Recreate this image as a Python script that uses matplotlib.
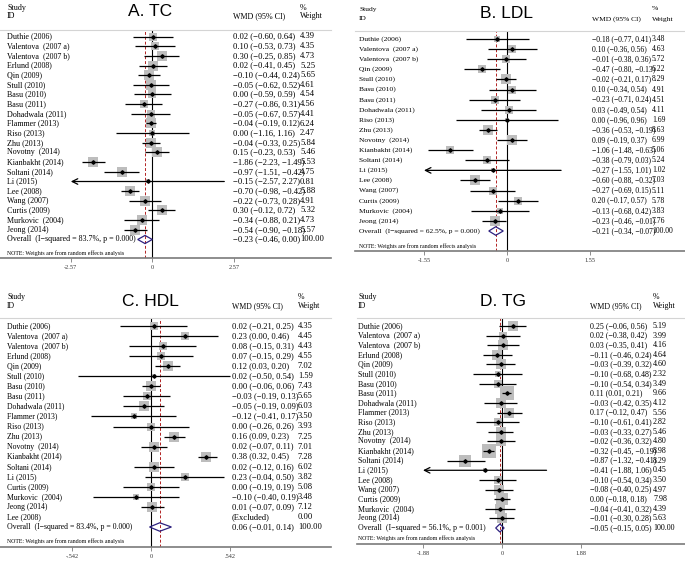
import numpy as np
import matplotlib
matplotlib.use("Agg")
import matplotlib.pyplot as plt
from matplotlib.patches import Polygon
from matplotlib.transforms import blended_transform_factory

W, H = 685, 563
SERIF = "Liberation Serif"

# ---------------- A. TC ----------------
tc_study = ["Duthie (2006)", "Valentova  (2007 a)", "Valentova  (2007 b)", "Erlund (2008)",
            "Qin (2009)", "Stull (2010)", "Basu (2010)", "Basu (2011)", "Dohadwala (2011)",
            "Flammer (2013)", "Riso (2013)", "Zhu (2013)", "Novotny  (2014)", "Kianbakht (2014)",
            "Soltani (2014)", "Li (2015)", "Lee (2008)", "Wang (2007)", "Curtis (2009)",
            "Murkovic  (2004)", "Jeong (2014)"]
tc_wmd = [0.02, 0.10, 0.30, 0.02, -0.10, -0.05, 0.00, -0.27, -0.05, -0.04, 0.00, -0.04,
          0.15, -1.86, -0.97, -0.15, -0.70, -0.22, 0.30, -0.34, -0.54]
tc_lo = [-0.60, -0.53, -0.25, -0.41, -0.44, -0.62, -0.59, -0.86, -0.67, -0.19, -1.16, -0.33,
         -0.23, -2.23, -1.51, -2.57, -0.98, -0.73, -0.12, -0.88, -0.90]
tc_hi = [0.64, 0.73, 0.85, 0.45, 0.24, 0.52, 0.59, 0.31, 0.57, 0.12, 1.16, 0.25,
         0.53, -1.49, -0.42, 2.27, -0.42, 0.28, 0.72, 0.21, -0.18]
tc_w = [4.39, 4.35, 4.73, 5.25, 5.65, 4.61, 4.54, 4.56, 4.41, 6.24, 2.47, 5.84,
        5.46, 5.53, 4.75, 0.81, 5.88, 4.91, 5.32, 4.73, 5.57]
tc_overall = [-0.23, -0.46, 0.00]
tc_het = "Overall  (I\u2212squared = 83.7%, p = 0.000)"
tc_ticks = [-2.57, 0, 2.57]
tc_ticklabels = ["-2.57", "0", "2.57"]

# ---------------- B. LDL ----------------
ldl_study = ["Duthie (2006)", "Valentova  (2007 a)", "Valentova  (2007 b)", "Qin (2009)",
             "Stull (2010)", "Basu (2010)", "Basu (2011)", "Dohadwala (2011)", "Riso (2013)",
             "Zhu (2013)", "Novotny  (2014)", "Kianbakht (2014)", "Soltani (2014)", "Li (2015)",
             "Lee (2008)", "Wang (2007)", "Curtis (2009)", "Murkovic  (2004)", "Jeong (2014)"]
ldl_wmd = [-0.18, 0.10, -0.01, -0.47, -0.02, 0.10, -0.23, 0.03, 0.00, -0.36, 0.09,
           -1.06, -0.38, -0.27, -0.60, -0.27, 0.20, -0.13, -0.23]
ldl_lo = [-0.77, -0.36, -0.38, -0.80, -0.21, -0.34, -0.71, -0.49, -0.96, -0.53, -0.19,
          -1.48, -0.79, -1.55, -0.88, -0.69, -0.17, -0.68, -0.46]
ldl_hi = [0.41, 0.56, 0.36, -0.13, 0.17, 0.54, 0.24, 0.54, 0.96, -0.19, 0.37,
          -0.63, 0.03, 1.01, -0.32, 0.15, 0.57, 0.42, -0.01]
ldl_w = [3.48, 4.63, 5.72, 6.22, 8.29, 4.91, 4.51, 4.11, 1.69, 8.63, 6.99,
         5.06, 5.24, 1.02, 7.03, 5.11, 5.78, 3.83, 7.76]
ldl_overall = [-0.21, -0.34, -0.07]
ldl_het = "Overall  (I\u2212squared = 62.5%, p = 0.000)"
ldl_ticks = [-1.55, 0, 1.55]
ldl_ticklabels = ["-1.55", "0", "1.55"]

# ---------------- C. HDL ----------------
hdl_study = ["Duthie (2006)", "Valentova  (2007 a)", "Valentova  (2007 b)", "Erlund (2008)",
             "Qin (2009)", "Stull (2010)", "Basu (2010)", "Basu (2011)", "Dohadwala (2011)",
             "Flammer (2013)", "Riso (2013)", "Zhu (2013)", "Novotny  (2014)", "Kianbakht (2014)",
             "Soltani (2014)", "Li (2015)", "Curtis (2009)", "Murkovic  (2004)", "Jeong (2014)",
             "Lee (2008)"]
hdl_wmd = [0.02, 0.23, 0.08, 0.07, 0.12, 0.02, 0.00, -0.03, -0.05, -0.12, 0.00, 0.16,
           0.02, 0.38, 0.02, 0.23, 0.00, -0.10, 0.01, np.nan]
hdl_lo = [-0.21, 0.00, -0.15, -0.15, 0.03, -0.50, -0.06, -0.19, -0.19, -0.41, -0.26, 0.09,
          -0.07, 0.32, -0.12, -0.04, -0.19, -0.40, -0.07, np.nan]
hdl_hi = [0.25, 0.46, 0.31, 0.29, 0.20, 0.54, 0.06, 0.13, 0.09, 0.17, 0.26, 0.23,
          0.11, 0.45, 0.16, 0.50, 0.19, 0.19, 0.09, np.nan]
hdl_w = [4.35, 4.45, 4.43, 4.55, 7.02, 1.59, 7.43, 5.65, 6.03, 3.50, 3.93, 7.25,
         7.01, 7.28, 6.02, 3.82, 5.08, 3.48, 7.12, 0.00]
hdl_overall = [0.06, -0.01, 0.14]
hdl_het = "Overall  (I\u2212squared = 83.4%, p = 0.000)"
hdl_ticks = [-0.542, 0, 0.542]
hdl_ticklabels = ["-.542", "0", ".542"]

# ---------------- D. TG ----------------
tg_study = ["Duthie (2006)", "Valentova  (2007 a)", "Valentova  (2007 b)", "Erlund (2008)",
            "Qin (2009)", "Stull (2010)", "Basu (2010)", "Basu (2011)", "Dohadwala (2011)",
            "Flammer (2013)", "Riso (2013)", "Zhu (2013)", "Novotny  (2014)", "Kianbakht (2014)",
            "Soltani (2014)", "Li (2015)", "Lee (2008)", "Wang (2007)", "Curtis (2009)",
            "Murkovic  (2004)", "Jeong (2014)"]
tg_wmd = [0.25, 0.02, 0.03, -0.11, -0.03, -0.10, -0.10, 0.11, -0.03, 0.17, -0.10, -0.03,
          -0.02, -0.32, -0.87, -0.41, -0.10, -0.08, 0.00, -0.04, -0.01]
tg_lo = [-0.06, -0.38, -0.35, -0.46, -0.39, -0.68, -0.54, 0.01, -0.42, -0.12, -0.61, -0.33,
         -0.36, -0.45, -1.32, -1.88, -0.54, -0.40, -0.18, -0.41, -0.30]
tg_hi = [0.56, 0.42, 0.41, 0.24, 0.32, 0.48, 0.34, 0.21, 0.35, 0.47, 0.41, 0.27,
         0.32, -0.19, -0.41, 1.06, 0.34, 0.25, 0.18, 0.32, 0.28]
tg_w = [5.19, 3.99, 4.16, 4.64, 4.60, 2.32, 3.49, 9.66, 4.12, 5.56, 2.82, 5.46,
        4.80, 8.98, 8.29, 0.45, 3.50, 4.97, 7.98, 4.39, 5.63]
tg_overall = [-0.05, -0.15, 0.05]
tg_het = "Overall  (I\u2212squared = 56.1%, p = 0.001)"
tg_ticks = [-1.88, 0, 1.88]
tg_ticklabels = ["-1.88", "0", "1.88"]


def fx(px):
    return px / W


def fy(py):
    return 1 - py / H


def num(v):
    return f"{v:.2f}".replace("-", "\u2212")


def forest(fig, title, study, wmd, lo, hi, wt, overall, het, ticks, ticklabels, lay):
    left, right, zero, ppu = lay["left"], lay["right"], lay["zero"], lay["ppu"]
    top, y0, y1, bot = lay["header"], lay["first"], lay["last"], lay["axis"]
    n = len(study) + 1
    step = (y1 - y0) / (n - 1)

    ax = fig.add_axes([fx(left), fy(bot), (right - left) / W, (bot - top) / H])
    ax.set_xlim((left - zero) / ppu, (right - zero) / ppu)
    ax.set_ylim((bot - y0) / step, (top - y0) / step)
    for sp in ["left", "right"]:
        ax.spines[sp].set_visible(False)
    ax.spines["top"].set_color("#d4d4d4")
    ax.spines["top"].set_linewidth(0.8)
    ax.spines["bottom"].set_color("#7a7a7a")
    ax.spines["bottom"].set_linewidth(1.2)
    ax.set_yticks([])
    ax.set_xticks(ticks)
    ax.set_xticklabels(ticklabels, fontfamily=SERIF)
    ax.tick_params(axis="x", length=3, width=0.6, color="#7a7a7a", labelsize=4.5,
                   pad=2, labelcolor="#333333")
    ax.patch.set_alpha(0)

    ax.axvline(0, color="black", lw=0.8, zorder=2)
    ax.axvline(overall[0], color="#b22222", lw=0.7, ls=(0, (3, 2)), zorder=1)

    tr = blended_transform_factory(fig.transFigure, ax.transData)
    lab = dict(fontsize=lay["fs_lab"], fontfamily=SERIF, va="center", transform=tr)
    nums = dict(fontsize=lay["fs_num"], fontfamily=SERIF, va="center", transform=tr)
    k = lay["box"]
    for i, name in enumerate(study):
        ax.text(fx(lay["label"]), i, name, **lab)
        if np.isnan(wmd[i]):
            ax.text(fx(lay["wmd"]), i, "(Excluded)", **nums)
        else:
            ax.text(fx(lay["wmd"]), i, f"{num(wmd[i])} ({num(lo[i])}, {num(hi[i])})", **nums)
            side = k * np.sqrt(wt[i]) * 0.72
            ax.scatter(wmd[i], i, marker="s", s=side ** 2, color="#bdbdbd", lw=0, zorder=3)
            if lo[i] <= ticks[0]:
                ax.annotate("", xy=(ticks[0], i), xytext=(hi[i], i), zorder=4,
                            arrowprops=dict(arrowstyle="->", lw=0.9, color="black",
                                            shrinkA=0, shrinkB=0))
            else:
                ax.hlines(i, lo[i], hi[i], color="black", lw=0.9, zorder=4)
            ax.plot(wmd[i], i, marker="D", ms=1.8, color="black", zorder=5)
        ax.text(fx(lay["wt"]), i, f"{wt[i]:.2f}", **nums)

    r = n - 1
    est, olo, ohi = overall
    ax.add_patch(Polygon([(olo, r), (est, r - 0.42), (ohi, r), (est, r + 0.42)],
                         closed=True, facecolor="none", edgecolor="#2e2280", lw=0.9, zorder=4))
    ax.text(fx(lay["label"]), r, het, **lab)
    ax.text(fx(lay["wmd"]), r, f"{num(est)} ({num(olo)}, {num(ohi)})", **nums)
    ax.text(fx(lay["wt"]), r, "100.00", **nums)

    hdr = dict(fontsize=lay["fs_lab"], fontfamily=SERIF, va="center")
    fig.text(fx(lay["label"]), fy(lay["study_y"]), "Study", **hdr)
    fig.text(fx(lay["label"]), fy(lay["id_y"]), "ID", **hdr)
    fig.text(fx(lay["wmd"]), fy(lay["id_y"]), "WMD (95% CI)", **hdr)
    fig.text(fx(lay["wt"]), fy(lay["study_y"]), "%", **hdr)
    fig.text(fx(lay["wt"]), fy(lay["id_y"]), "Weight", **hdr)
    fig.text(fx(lay["label"]), fy(lay["note"]), "NOTE: Weights are from random effects analysis",
             fontsize=4.2, fontfamily=SERIF, va="center")
    fig.text(fx(lay["title_x"]), fy(lay["title_y"]), title, fontsize=12.5,
             fontfamily="Liberation Sans", ha="center", va="center")
    return ax


fig = plt.figure(figsize=(W / 100, H / 100), dpi=100)

lay_a = dict(left=0, right=331, zero=152.3, ppu=81.5 / 2.57, header=30, first=36.5, last=239.5,
             axis=258, label=7, wmd=233, wt=300, study_y=7.5, id_y=16.5, note=253,
             title_x=150, title_y=11, box=4.2, fs_lab=5.8, fs_num=6.2)
lay_b = dict(left=355, right=685, zero=507, ppu=83 / 1.55, header=31, first=39, last=231,
             axis=251, label=359, wmd=592, wt=652, study_y=9, id_y=19, note=246,
             title_x=506, title_y=13, box=3.5, fs_lab=5.4, fs_num=5.5)
lay_c = dict(left=0, right=331, zero=151, ppu=79 / 0.542, header=318, first=326, last=527,
             axis=547, label=7, wmd=232, wt=298, study_y=297, id_y=306, note=541,
             title_x=150, title_y=302, box=3.7, fs_lab=5.6, fs_num=6.1)
lay_d = dict(left=357, right=685, zero=502, ppu=79 / 1.88, header=318, first=326, last=528,
             axis=544, label=358, wmd=590, wt=653, study_y=297, id_y=306, note=538,
             title_x=503, title_y=302, box=4.5, fs_lab=5.7, fs_num=5.8)

forest(fig, "A. TC", tc_study, tc_wmd, tc_lo, tc_hi, tc_w, tc_overall, tc_het,
       tc_ticks, tc_ticklabels, lay_a)
forest(fig, "B. LDL", ldl_study, ldl_wmd, ldl_lo, ldl_hi, ldl_w, ldl_overall, ldl_het,
       ldl_ticks, ldl_ticklabels, lay_b)
forest(fig, "C. HDL", hdl_study, hdl_wmd, hdl_lo, hdl_hi, hdl_w, hdl_overall, hdl_het,
       hdl_ticks, hdl_ticklabels, lay_c)
forest(fig, "D. TG", tg_study, tg_wmd, tg_lo, tg_hi, tg_w, tg_overall, tg_het,
       tg_ticks, tg_ticklabels, lay_d)

fig.savefig("out.png", dpi=100)
